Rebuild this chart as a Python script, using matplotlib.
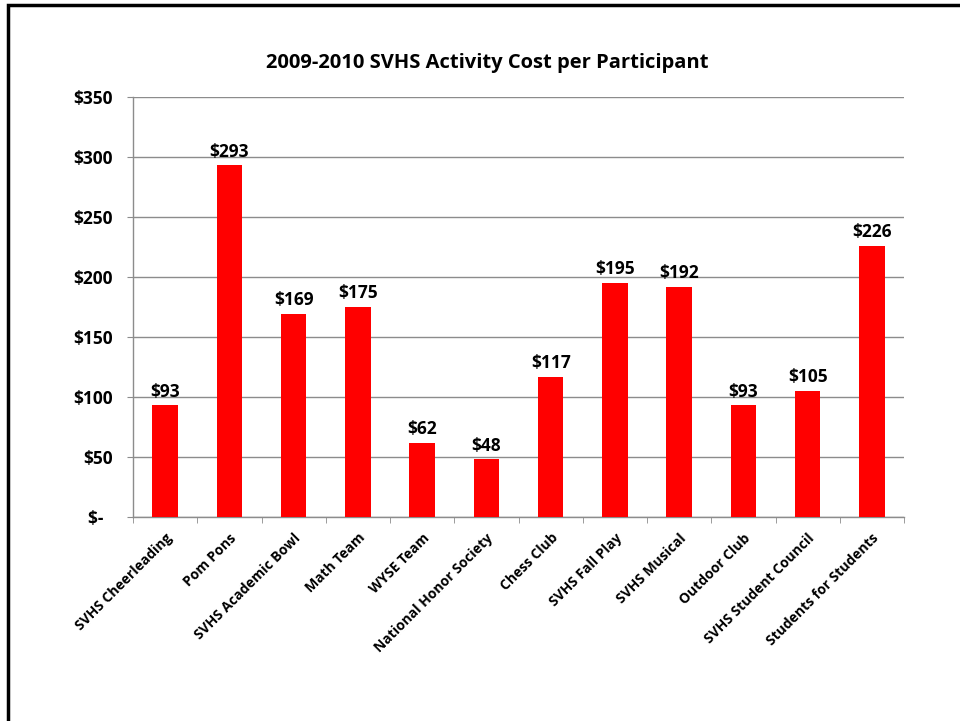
import matplotlib
matplotlib.use("Agg")
import matplotlib.pyplot as plt
from matplotlib.patches import Rectangle
import numpy as np

categories = ["SVHS Cheerleading", "Pom Pons", "SVHS Academic Bowl", "Math Team",
              "WYSE Team", "National Honor Society", "Chess Club", "SVHS Fall Play",
              "SVHS Musical", "Outdoor Club", "SVHS Student Council", "Students for Students"]
values = [93, 293, 169, 175, 62, 48, 117, 195, 192, 93, 105, 226]
yticks = [0, 50, 100, 150, 200, 250, 300, 350]
ytick_labels = ["$-  ", "$50", "$100", "$150", "$200", "$250", "$300", "$350"]
title = "2009-2010 SVHS Activity Cost per Participant"

plt.rcParams['font.family'] = ['Open Sans', 'DejaVu Sans']
plt.rcParams['font.weight'] = 'bold'

W, H = 960, 721
fig = plt.figure(figsize=(9.6, 7.21), dpi=100)
fig.patch.set_facecolor('white')

# outer frame (extends past right/bottom edge)
fig.patches.append(Rectangle((8 / W, -0.05), 1.2, 1 - 5 / H + 0.05, transform=fig.transFigure,
                             fill=False, edgecolor='black', linewidth=2.5))

left, right, top, bottom = 133, 904, 97, 517
ax = fig.add_axes([left / W, 1 - bottom / H, (right - left) / W, (bottom - top) / H])

x = np.arange(len(categories))
ax.bar(x, values, width=0.40, color='#ff0000', zorder=3)
ax.set_xlim(-0.5, len(categories) - 0.5)
ax.set_ylim(0, 350)

ax.set_yticks(yticks)
ax.set_yticklabels(ytick_labels, fontsize=12.5, fontweight='bold')
ax.yaxis.grid(True, color='#8c8c8c', linewidth=1, zorder=0)
ax.tick_params(axis='y', length=4.5, color='#8c8c8c', pad=10)

ax.set_xticks(x)
ax.set_xticklabels(categories, rotation=45, ha='right', rotation_mode='anchor',
                   fontsize=10, fontweight='bold')
ax.tick_params(axis='x', length=0, pad=10)
ax.set_xticks(np.arange(len(categories) + 1) - 0.5, minor=True)
ax.tick_params(axis='x', which='minor', length=4.5, color='#8c8c8c')

for s in ['top', 'right']:
    ax.spines[s].set_visible(False)
for s in ['left', 'bottom']:
    ax.spines[s].set_color('#8c8c8c')
    ax.spines[s].set_linewidth(1)

for xi, v in zip(x, values):
    ax.annotate(f"${v}", (xi, v), xytext=(0, 3.5), textcoords='offset points',
                ha='center', va='bottom', fontsize=12.5, fontweight='bold')

fig.text(487 / W, 1 - 63 / H, title, ha='center', va='center',
         fontsize=14.5, fontweight='bold')

fig.savefig("out.png", dpi=100, facecolor='white')
